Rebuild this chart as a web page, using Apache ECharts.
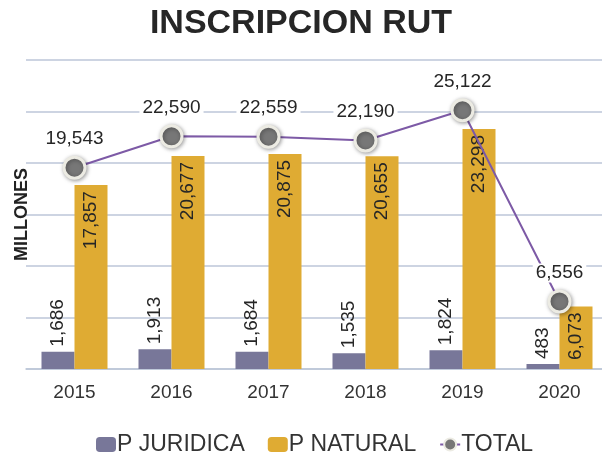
<!DOCTYPE html>
<html>
<head>
<meta charset="utf-8">
<script src="https://cdn.jsdelivr.net/npm/echarts@6/dist/echarts.min.js"></script>
<style>html,body{margin:0;padding:0;background:#fff;}#c{width:602px;height:457px;}</style>
</head>
<body>
<div id="c"></div>
<script>
const years = ['2015', '2016', '2017', '2018', '2019', '2020'];
const juridica = [1686, 1913, 1684, 1535, 1824, 483];
const natural = [17857, 20677, 20875, 20655, 23298, 6073];
const total = [19543, 22590, 22559, 22190, 25122, 6556];

const FONT = '"Liberation Sans", Arial, sans-serif';
const fmt = p => Number(p.value).toLocaleString('en-US');
const chart = echarts.init(document.getElementById('c'), null, {renderer: 'canvas'});
chart.setOption({
  animation: false,
  backgroundColor: '#fff',
  textStyle: {fontFamily: FONT},
  title: {
    text: 'INSCRIPCION RUT',
    left: 'center',
    top: 2,
    textStyle: {fontSize: 34, fontWeight: 'bold', color: '#262626', fontFamily: FONT}
  },
  legend: {
    top: 428,
    left: 91,
    itemGap: 23,
    itemWidth: 20,
    itemHeight: 15,
    textStyle: {fontSize: 23, color: '#333', fontFamily: FONT, padding: [0, 0, 0, -4]},
    data: ['P JURIDICA', 'P NATURAL', 'TOTAL']
  },
  grid: {left: 26, right: -6, top: 60, bottom: 88, containLabel: false, outerBoundsMode: 'none'},
  xAxis: {
    type: 'category',
    data: years,
    axisTick: {show: false},
    axisLine: {lineStyle: {color: '#bcc6d8', width: 1.5}},
    axisLabel: {fontSize: 19, color: '#333', margin: 14, fontFamily: FONT}
  },
  yAxis: {
    type: 'value',
    min: 0,
    max: 30000,
    interval: 5000,
    name: 'MILLONES',
    nameLocation: 'middle',
    nameRotate: 90,
    nameGap: -5,
    nameTextStyle: {fontSize: 18, fontWeight: 'bold', color: '#222', fontFamily: FONT},
    axisLabel: {show: false},
    axisTick: {show: false},
    axisLine: {show: false},
    splitLine: {lineStyle: {color: '#bcc6d8', width: 1.5}}
  },
  series: [
    {
      name: 'P JURIDICA',
      type: 'bar',
      data: juridica,
      barWidth: 33,
      barGap: '0%',
      itemStyle: {color: '#787799'},
      label: {
        show: true, position: 'top', rotate: 90, align: 'left', verticalAlign: 'middle',
        distance: 5, fontSize: 19, color: '#262626', fontFamily: FONT, formatter: fmt
      }
    },
    {
      name: 'P NATURAL',
      type: 'bar',
      data: natural,
      barWidth: 33,
      barGap: '0%',
      itemStyle: {color: '#dfab33'},
      label: {
        show: true, position: 'insideTop', rotate: 90, align: 'right', verticalAlign: 'middle',
        distance: 6, fontSize: 19, color: '#262626', fontFamily: FONT, formatter: fmt
      }
    },
    {
      name: 'TOTAL',
      type: 'line',
      data: total,
      z: 5,
      symbol: 'circle',
      symbolSize: 21,
      lineStyle: {color: '#7d5aa6', width: 2},
      itemStyle: {
        color: '#777777', borderColor: '#ecebe3', borderWidth: 3,
        shadowColor: 'rgba(0,0,0,0.35)', shadowBlur: 4, shadowOffsetX: 1, shadowOffsetY: 1
      },
      label: {
        show: true, position: 'top', distance: 7, fontSize: 19, color: '#262626',
        fontFamily: FONT, backgroundColor: '#fff', padding: [0, 3], formatter: fmt
      }
    }
  ]
});
</script>
</body>
</html>
